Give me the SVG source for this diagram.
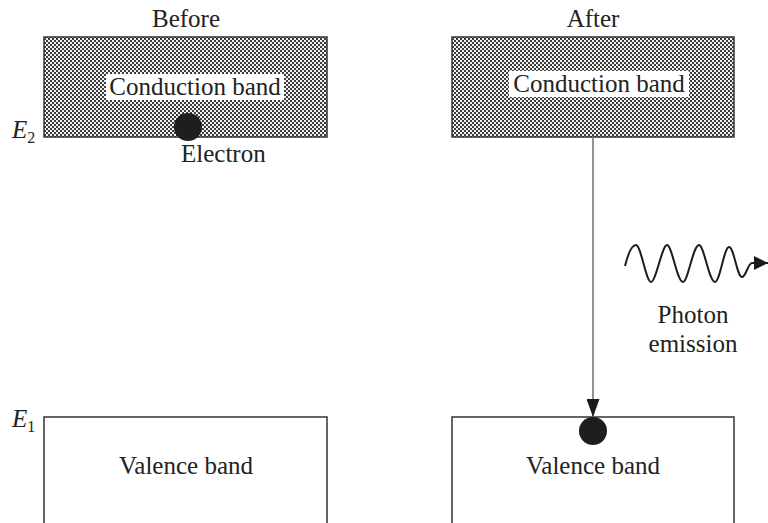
<svg xmlns="http://www.w3.org/2000/svg" width="768" height="523" viewBox="0 0 768 523">
<defs>
<pattern id="hatch" width="4" height="4" patternUnits="userSpaceOnUse">
<rect width="4" height="4" fill="#3c3c3c"/>
<rect x="0" y="0" width="2" height="2" fill="#f2f2f2"/>
<rect x="2" y="2" width="2" height="2" fill="#f2f2f2"/>
</pattern>
<marker id="arrow" viewBox="0 0 14 14" refX="14" refY="7" markerWidth="14" markerHeight="14" markerUnits="userSpaceOnUse" orient="auto">
<path d="M0,0 L14,7 L0,14 Z" fill="#1a1a1a"/>
</marker>
<marker id="arrowDown" viewBox="0 0 18 13" refX="18" refY="6.5" markerWidth="18" markerHeight="13" markerUnits="userSpaceOnUse" orient="auto">
<path d="M0,0 L18,6.5 L0,13 Z" fill="#1a1a1a"/>
</marker>
</defs>
<style>
text { font-family: "Liberation Serif", "DejaVu Serif", serif; font-size: 25px; fill: #222; }
.mid { text-anchor: middle; }
.it { font-style: italic; }
.band { stroke: #333; stroke-width: 1.5; }
.label-bg { fill: #ffffff; }
</style>
<rect width="768" height="523" fill="#ffffff"/>

<text class="mid" x="186" y="27">Before</text>
<text class="mid" x="593" y="27">After</text>

<g id="before-conduction">
<rect class="band" x="44" y="37" width="283" height="100" fill="url(#hatch)"/>
<rect class="label-bg" x="106" y="74" width="178" height="26"/>
<text class="mid" x="195" y="95">Conduction band</text>
</g>
<g id="after-conduction">
<rect class="band" x="452" y="37" width="282" height="100" fill="url(#hatch)"/>
<rect class="label-bg" x="509" y="71" width="180" height="26"/>
<text class="mid" x="599" y="92">Conduction band</text>
</g>

<g id="electron-before">
<circle cx="188" cy="127" r="14" fill="#1e1e1e"/>
<text x="181" y="162">Electron</text>
</g>

<g id="E2">
<text class="it" x="12" y="138">E<tspan font-size="16" font-style="normal" dy="5">2</tspan></text>
</g>
<g id="E1">
<text class="it" x="12" y="427">E<tspan font-size="16" font-style="normal" dy="5">1</tspan></text>
</g>

<g id="before-valence">
<rect class="band" x="44" y="417" width="283" height="120" fill="#ffffff"/>
<text class="mid" x="186" y="474">Valence band</text>
</g>
<g id="after-valence">
<rect class="band" x="452" y="417" width="282" height="120" fill="#ffffff"/>
<circle cx="593" cy="431" r="14" fill="#1e1e1e"/>
<text class="mid" x="593" y="474">Valence band</text>
</g>

<g id="photon">
<text class="mid" x="693" y="323">Photon</text>
<text class="mid" x="693" y="352">emission</text>
</g>

<g id="connectors">
<line x1="593" y1="137" x2="593" y2="417" stroke="#777" stroke-width="1.6" marker-end="url(#arrowDown)"/>
<path d="M625,266 C629,250 633,245 636,245 C641,245 646,282 651,282 C656,282 662,245 667,245 C672,245 677,282 683,282 C688,282 693,245 699,245 C704,245 709,282 715,282 C720,282 724,247 729,247 C734,247 737,277 742,277 C746,277 748,263 752,263 L768,263" fill="none" stroke="#1e1e1e" stroke-width="2" marker-end="url(#arrow)"/>
</g>
</svg>
